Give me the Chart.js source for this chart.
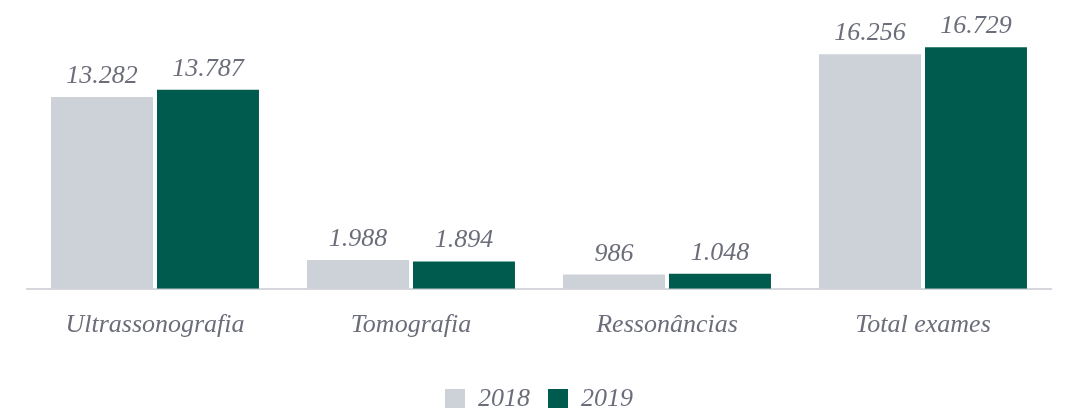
<!DOCTYPE html>
<html>
<head>
<meta charset="utf-8">
<script src="https://cdn.jsdelivr.net/npm/chart.js@4"></script>
<style>
  html, body { margin: 0; padding: 0; background: #fff; }
  #wrap { width: 1068px; height: 408px; }
</style>
</head>
<body>
<div id="wrap"><canvas id="grafico" width="1068" height="408"></canvas></div>
<script>
// dados
const categorias = ['Ultrassonografia', 'Tomografia', 'Ressonâncias', 'Total exames'];
const anos = ['2018', '2019'];
const valores2018 = [13282, 1988, 986, 16256];
const valores2019 = [13787, 1894, 1048, 16729];

const corCinza = '#cdd1d8';
const corVerde = '#005b4f';
const corTexto = '#6b6e7a';
const fonte = "'Liberation Serif', serif";

function formatar(n) {
  return n.toString().replace(/\B(?=(\d{3})+(?!\d))/g, '.');
}

// desenha os valores acima de cada barra
const rotulos = {
  id: 'rotulos',
  afterDatasetsDraw(chart) {
    const ctx = chart.ctx;
    ctx.save();
    ctx.font = 'italic 26px ' + fonte;
    ctx.fillStyle = corTexto;
    ctx.textAlign = 'center';
    ctx.textBaseline = 'alphabetic';
    chart.data.datasets.forEach((ds, i) => {
      chart.getDatasetMeta(i).data.forEach((bar, j) => {
        ctx.fillText(formatar(ds.data[j]), bar.x, bar.y - 14);
      });
    });
    ctx.restore();
  }
};

new Chart(document.getElementById('grafico'), {
  type: 'bar',
  data: {
    labels: categorias,
    datasets: [
      { label: anos[0], data: valores2018, backgroundColor: corCinza },
      { label: anos[1], data: valores2019, backgroundColor: corVerde }
    ]
  },
  options: {
    responsive: false,
    animation: false,
    layout: { padding: { left: 27, right: 17, top: 29, bottom: -14 } },
    categoryPercentage: 0.828,
    barPercentage: 0.962,
    scales: {
      x: {
        grid: { display: false },
        border: { display: true, color: '#d5d7dc', width: 2 },
        ticks: { color: corTexto, font: { family: fonte, style: 'italic', size: 26 }, padding: 13 },
        afterFit(scale) { scale.height += 14; }
      },
      y: {
        display: false,
        min: 0,
        max: 18000
      }
    },
    plugins: {
      legend: {
        position: 'bottom',
        labels: {
          color: corTexto,
          boxWidth: 20,
          boxHeight: 20,
          padding: 18,
          font: { family: fonte, style: 'italic', size: 26 }
        }
      },
      tooltip: { enabled: false }
    }
  },
  plugins: [rotulos]
});
</script>
</body>
</html>
